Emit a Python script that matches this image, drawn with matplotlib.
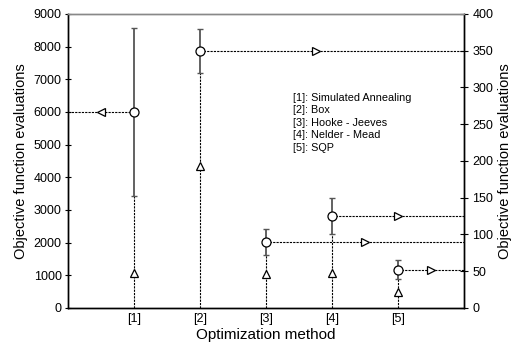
import matplotlib
matplotlib.use("Agg")
import matplotlib.pyplot as plt

# ============================
# DATA
# ============================

method_ids = ["[1]", "[2]", "[3]", "[4]", "[5]"]
method_names = ["Simulated Annealing", "Box", "Hooke - Jeeves",
                "Nelder - Mead", "SQP"]

# mean evaluations with min / max (left axis for [1], right axis for the rest)
mean_evals = [6000, 350, 90, 125, 51]
low_evals = [3430, 320, 72, 101, 39]
high_evals = [8570, 380, 107, 150, 65]
tri_evals = [1080, 193, 46, 48, 22]
on_right = [False, True, True, True, True]

# where the axis-pointer arrow sits on each dotted guide
arrow_x = [0.5, 3.75, 4.5, 5.0, 5.5]

# ============================
# PLOT
# ============================

plt.rcParams["font.family"] = ["Liberation Sans", "DejaVu Sans"]

fig = plt.figure(figsize=(5.15, 3.46), dpi=100)
ax = fig.add_axes([0.132, 0.110, 0.769, 0.850])
ax2 = ax.twinx()

ax.set_xlim(0, 6)
ax.set_ylim(0, 9000)
ax2.set_ylim(0, 400)

dot = dict(color="black", lw=0.8, linestyle=(0, (2, 1)), zorder=2)
xmin, xmax = ax.get_xlim()

for i in range(len(method_ids)):
    x = i + 1
    a = ax2 if on_right[i] else ax
    # whisker
    a.errorbar([x], [mean_evals[i]],
               yerr=[[mean_evals[i] - low_evals[i]], [high_evals[i] - mean_evals[i]]],
               fmt="none", ecolor="#555555", elinewidth=1.3,
               capsize=2, capthick=1, zorder=3)
    # dotted drop to the x axis
    a.plot([x, x], [0, low_evals[i]], **dot)
    # dotted guide to the matching y axis
    if on_right[i]:
        a.plot([x, xmax], [mean_evals[i], mean_evals[i]], **dot)
        a.plot([arrow_x[i]], [mean_evals[i]], marker=">", ms=5.5,
               mfc="white", mec="black", mew=0.9, zorder=4)
    else:
        a.plot([xmin, x], [mean_evals[i], mean_evals[i]], **dot)
        a.plot([arrow_x[i]], [mean_evals[i]], marker="<", ms=5.5,
               mfc="white", mec="black", mew=0.9, zorder=4)
    a.plot([x], [tri_evals[i]], marker="^", ms=5.5,
           mfc="white", mec="black", mew=0.9, zorder=4)
    a.plot([x], [mean_evals[i]], marker="o", ms=6.5,
           mfc="white", mec="black", mew=0.9, zorder=5)

# method legend as plain text lines
legend_y = [286, 269, 252, 235, 218]
for i in range(len(method_ids)):
    ax2.text(3.41, legend_y[i], method_ids[i] + ": " + method_names[i],
             fontsize=7.8, va="center", ha="left")

ax.set_xticks(range(1, 6))
ax.set_xticklabels(method_ids)
ax.set_yticks(range(0, 9001, 1000))
ax2.set_yticks(range(0, 401, 50))

ax.tick_params(axis="x", length=0, pad=4, labelsize=9)
ax.tick_params(axis="y", direction="inout", length=5, labelsize=9, pad=2)
ax2.tick_params(axis="y", direction="inout", length=6, labelsize=9, pad=3)

for a in (ax, ax2):
    a.spines["top"].set_color("#888888")
    a.spines["top"].set_linewidth(1.0)
    a.spines["left"].set_linewidth(1.0)
    a.spines["right"].set_linewidth(1.0)
    a.spines["bottom"].set_linewidth(1.0)

ax.set_xlabel("Optimization method", fontsize=11, labelpad=2)
ax.set_ylabel("Objective function evaluations", fontsize=10.5, labelpad=4)
ax2.set_ylabel("Objective function evaluations", fontsize=10.5, labelpad=3)

plt.savefig("out.png", dpi=100)
